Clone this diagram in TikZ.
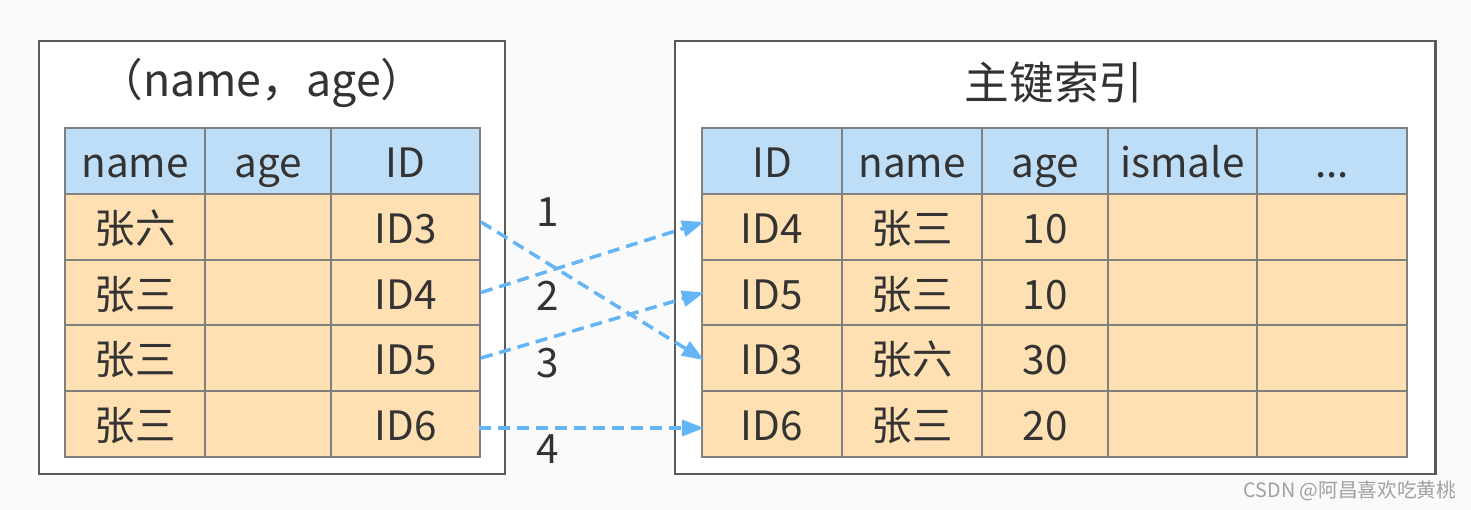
\documentclass[tikz,border=0pt]{standalone}
\usepackage{fontspec}
\setmainfont{Noto Sans CJK SC}
\usetikzlibrary{arrows.meta,calc}
\definecolor{bgc}{HTML}{FAFAFA}
\definecolor{boxline}{HTML}{5A5A5A}
\definecolor{gridc}{HTML}{808080}
\definecolor{headc}{HTML}{BEDEF8}
\definecolor{bodyc}{HTML}{FFE0B2}
\definecolor{arrc}{HTML}{64B5F6}
\definecolor{txt}{HTML}{333333}
\definecolor{wm}{HTML}{A0A0A0}
\begin{document}
\begin{tikzpicture}[x=0.01cm,y=-0.01cm,
  panel/.style={draw=boxline, fill=white, line width=0.6pt},
  cell/.style={draw=gridc, line width=0.55pt, inner sep=0pt, minimum height=0.658cm,
    text=txt, font=\fontsize{11.5}{13}\selectfont, text height=10.6pt, text depth=1.2pt},
  hd/.style={cell, fill=headc},
  bd/.style={cell, fill=bodyc},
  wA/.style={minimum width=1.40cm},
  wB/.style={minimum width=1.26cm},
  wC/.style={minimum width=1.49cm},
  wD/.style={minimum width=1.50cm},
  title/.style={text=txt, font=\fontsize{12.7}{15}\selectfont, inner sep=0pt},
  num/.style={text=txt, font=\fontsize{11.5}{13}\selectfont, inner sep=0pt},
  link/.style={draw=arrc, line width=1.0pt, dash pattern=on 0.12cm off 0.07cm,
    -{Triangle[length=0.22cm,width=0.16cm]}}
]
\useasboundingbox[fill=bgc] (0,0) rectangle (1471,510);

% panels
\node[panel, minimum width=4.66cm, minimum height=4.33cm, anchor=north west] (LP) at (38,40) {};
\node[panel, minimum width=7.60cm, minimum height=4.33cm, anchor=north west] (RP) at (674,40) {};

\node[title] (LT) at (262,83) {（name，age）};
\node[title] (RT) at (1054,83) {主键索引};

% left table
\node[hd,wA] (L0a) at (135,161) {name};
\node[hd,wB] (L0b) at (268,161) {age};
\node[hd,wC] (L0c) at (405.5,161) {ID};
\node[bd,wA] (L1a) at (135,227) {张六};
\node[bd,wB] (L1b) at (268,227) {};
\node[bd,wC] (L1c) at (405.5,227) {ID3};
\node[bd,wA] (L2a) at (135,292.5) {张三};
\node[bd,wB] (L2b) at (268,292.5) {};
\node[bd,wC] (L2c) at (405.5,292.5) {ID4};
\node[bd,wA] (L3a) at (135,358) {张三};
\node[bd,wB] (L3b) at (268,358) {};
\node[bd,wC] (L3c) at (405.5,358) {ID5};
\node[bd,wA] (L4a) at (135,424) {张三};
\node[bd,wB] (L4b) at (268,424) {};
\node[bd,wC] (L4c) at (405.5,424) {ID6};

% right table
\node[hd,wA] (R0a) at (772,161) {ID};
\node[hd,wA] (R0b) at (912,161) {name};
\node[hd,wB] (R0c) at (1045,161) {age};
\node[hd,wC] (R0d) at (1182.5,161) {ismale};
\node[hd,wD] (R0e) at (1332,161) {...};
\node[bd,wA] (R1a) at (772,227) {ID4};
\node[bd,wA] (R1b) at (912,227) {张三};
\node[bd,wB] (R1c) at (1045,227) {10};
\node[bd,wC] (R1d) at (1182.5,227) {};
\node[bd,wD] (R1e) at (1332,227) {};
\node[bd,wA] (R2a) at (772,292.5) {ID5};
\node[bd,wA] (R2b) at (912,292.5) {张三};
\node[bd,wB] (R2c) at (1045,292.5) {10};
\node[bd,wC] (R2d) at (1182.5,292.5) {};
\node[bd,wD] (R2e) at (1332,292.5) {};
\node[bd,wA] (R3a) at (772,358) {ID3};
\node[bd,wA] (R3b) at (912,358) {张六};
\node[bd,wB] (R3c) at (1045,358) {30};
\node[bd,wC] (R3d) at (1182.5,358) {};
\node[bd,wD] (R3e) at (1332,358) {};
\node[bd,wA] (R4a) at (772,424) {ID6};
\node[bd,wA] (R4b) at (912,424) {张三};
\node[bd,wB] (R4c) at (1045,424) {20};
\node[bd,wC] (R4d) at (1182.5,424) {};
\node[bd,wD] (R4e) at (1332,424) {};

% arrows
\draw[link] ($(L1c.east)+(0,-5)$) -- ($(R3a.west)+(3,2)$);
\draw[link] ($(L2c.east)+(0,0)$) -- ($(R1a.west)+(3,-5)$);
\draw[link] ($(L3c.east)+(0,0)$) -- ($(R2a.west)+(3,0)$);
\draw[link] ($(L4c.east)+(-2,4)$) -- ($(R4a.west)+(3,4)$);

% numbers
\node[num] (n1) at (548,212) {1};
\node[num] (n2) at (548,296) {2};
\node[num] (n3) at (548,363) {3};
\node[num] (n4) at (548,449) {4};

% watermark
\node[text=wm, font=\fontsize{5.6}{7}\selectfont, inner sep=0pt, anchor=east] (wmk) at (1457,491) {CSDN @阿昌喜欢吃黄桃};
\end{tikzpicture}
\end{document}
